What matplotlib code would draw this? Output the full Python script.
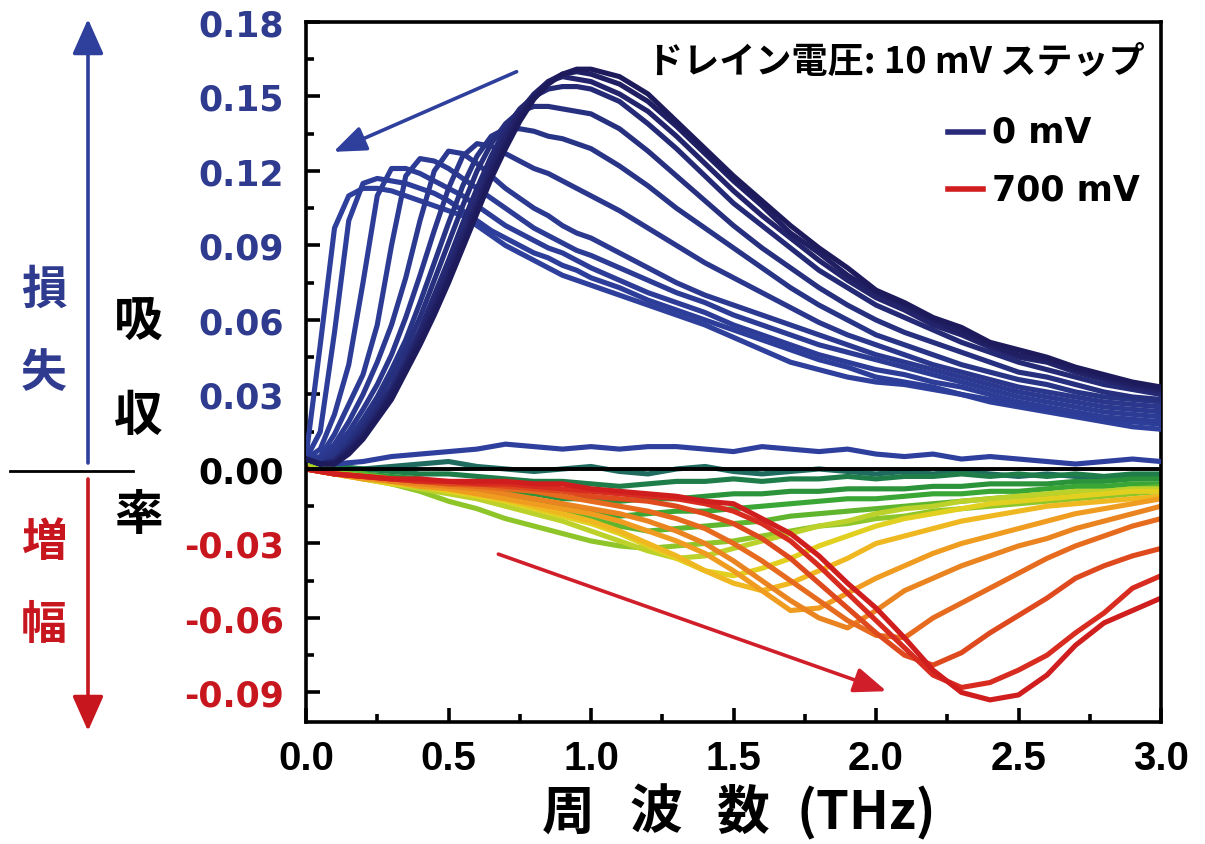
import matplotlib
matplotlib.use("Agg")
import matplotlib.pyplot as plt
from matplotlib.patches import FancyArrowPatch
from matplotlib.lines import Line2D

# ---------------- data ----------------
# loss side (positive) curves on a finer grid
XB = [0.00, 0.05, 0.10, 0.15, 0.20, 0.25, 0.30, 0.35, 0.40, 0.45, 0.50, 0.55, 0.60, 0.65, 0.70,
      0.75, 0.80, 0.85, 0.90, 0.95, 1.00, 1.10, 1.20, 1.30, 1.40, 1.50, 1.60, 1.70, 1.80, 1.90,
      2.00, 2.10, 2.20, 2.30, 2.40, 2.50, 2.60, 2.70, 2.80, 2.90, 3.00]

blue_c0 = [0.004, 0.002, 0.002, 0.006, 0.012, 0.020, 0.028, 0.039, 0.050, 0.062, 0.075, 0.089, 0.103, 0.117, 0.129,
           0.140, 0.149, 0.155, 0.159, 0.161, 0.161, 0.158, 0.151, 0.140, 0.129, 0.118, 0.108, 0.098, 0.089, 0.081,
           0.072, 0.067, 0.061, 0.057, 0.051, 0.048, 0.045, 0.041, 0.038, 0.035, 0.033]
blue_c1 = [0.004, 0.002, 0.002, 0.007, 0.013, 0.021, 0.030, 0.041, 0.052, 0.064, 0.077, 0.091, 0.105, 0.119, 0.131,
           0.142, 0.150, 0.156, 0.159, 0.160, 0.159, 0.155, 0.148, 0.138, 0.127, 0.116, 0.106, 0.095, 0.087, 0.078,
           0.071, 0.066, 0.060, 0.055, 0.050, 0.046, 0.044, 0.040, 0.037, 0.034, 0.032]
blue_c2 = [0.004, 0.002, 0.003, 0.008, 0.014, 0.022, 0.031, 0.042, 0.054, 0.067, 0.080, 0.094, 0.108, 0.122, 0.134,
           0.144, 0.151, 0.156, 0.158, 0.157, 0.156, 0.151, 0.144, 0.134, 0.123, 0.112, 0.102, 0.093, 0.084, 0.076,
           0.069, 0.064, 0.058, 0.054, 0.049, 0.045, 0.043, 0.039, 0.036, 0.033, 0.031]
blue_c3 = [0.004, 0.002, 0.003, 0.009, 0.016, 0.024, 0.033, 0.044, 0.056, 0.070, 0.084, 0.099, 0.113, 0.126, 0.137,
           0.145, 0.150, 0.153, 0.154, 0.154, 0.153, 0.148, 0.139, 0.129, 0.118, 0.107, 0.098, 0.089, 0.080, 0.073,
           0.066, 0.061, 0.056, 0.051, 0.047, 0.043, 0.040, 0.037, 0.034, 0.032, 0.030]
blue_c4 = [0.004, 0.002, 0.004, 0.010, 0.018, 0.027, 0.037, 0.048, 0.061, 0.076, 0.091, 0.106, 0.120, 0.131, 0.139,
           0.144, 0.146, 0.146, 0.145, 0.144, 0.143, 0.137, 0.128, 0.118, 0.108, 0.098, 0.089, 0.081, 0.073, 0.066,
           0.060, 0.055, 0.051, 0.047, 0.043, 0.039, 0.037, 0.034, 0.031, 0.029, 0.028]
blue_c5 = [0.004, 0.002, 0.006, 0.012, 0.020, 0.029, 0.040, 0.052, 0.067, 0.083, 0.099, 0.114, 0.126, 0.134, 0.137,
           0.137, 0.136, 0.134, 0.133, 0.131, 0.129, 0.122, 0.114, 0.105, 0.097, 0.089, 0.081, 0.073, 0.066, 0.060,
           0.054, 0.050, 0.046, 0.042, 0.039, 0.036, 0.034, 0.031, 0.029, 0.028, 0.027]
blue_c6 = [0.004, 0.003, 0.008, 0.015, 0.024, 0.034, 0.046, 0.061, 0.078, 0.096, 0.113, 0.126, 0.131, 0.130, 0.127,
           0.124, 0.121, 0.119, 0.116, 0.113, 0.110, 0.104, 0.097, 0.090, 0.083, 0.077, 0.071, 0.065, 0.059, 0.054,
           0.050, 0.046, 0.042, 0.039, 0.036, 0.033, 0.031, 0.029, 0.027, 0.026, 0.025]
blue_c7 = [0.004, 0.004, 0.010, 0.019, 0.030, 0.043, 0.058, 0.077, 0.100, 0.120, 0.128, 0.127, 0.123, 0.118, 0.113,
           0.109, 0.105, 0.102, 0.098, 0.095, 0.093, 0.087, 0.081, 0.075, 0.070, 0.066, 0.062, 0.058, 0.054, 0.050,
           0.046, 0.043, 0.040, 0.037, 0.034, 0.031, 0.029, 0.027, 0.025, 0.024, 0.023]
blue_c8 = [0.004, 0.005, 0.014, 0.026, 0.038, 0.058, 0.090, 0.118, 0.125, 0.124, 0.121, 0.117, 0.113, 0.109, 0.105,
           0.101, 0.097, 0.094, 0.091, 0.088, 0.086, 0.081, 0.076, 0.071, 0.067, 0.062, 0.058, 0.054, 0.050, 0.047,
           0.044, 0.041, 0.038, 0.035, 0.032, 0.029, 0.027, 0.025, 0.023, 0.022, 0.021]
blue_c9 = [0.004, 0.008, 0.022, 0.042, 0.075, 0.110, 0.121, 0.121, 0.119, 0.116, 0.113, 0.110, 0.106, 0.102, 0.098,
           0.095, 0.092, 0.089, 0.087, 0.084, 0.081, 0.076, 0.071, 0.067, 0.063, 0.058, 0.054, 0.050, 0.046, 0.043,
           0.040, 0.038, 0.035, 0.033, 0.030, 0.027, 0.025, 0.023, 0.021, 0.020, 0.019]
blue_c10 = [0.004, 0.015, 0.055, 0.100, 0.115, 0.117, 0.116, 0.115, 0.113, 0.111, 0.108, 0.104, 0.100, 0.096, 0.093,
            0.090, 0.087, 0.085, 0.082, 0.080, 0.077, 0.073, 0.068, 0.064, 0.060, 0.056, 0.052, 0.048, 0.044, 0.041,
            0.037, 0.035, 0.033, 0.030, 0.028, 0.026, 0.024, 0.022, 0.020, 0.019, 0.018]
blue_c11 = [0.005, 0.050, 0.097, 0.110, 0.113, 0.113, 0.112, 0.110, 0.108, 0.106, 0.104, 0.102, 0.098, 0.094, 0.090,
            0.087, 0.084, 0.081, 0.078, 0.076, 0.074, 0.070, 0.066, 0.062, 0.058, 0.053, 0.048, 0.043, 0.040, 0.037,
            0.035, 0.034, 0.032, 0.030, 0.027, 0.025, 0.023, 0.021, 0.019, 0.017, 0.016]

# near-zero and gain side (negative) curves, 0.1 THz grid
XN = [0.0, 0.1, 0.2, 0.3, 0.4, 0.5, 0.6, 0.7, 0.8, 0.9, 1.0, 1.1, 1.2, 1.3, 1.4, 1.5, 1.6, 1.7, 1.8, 1.9,
      2.0, 2.1, 2.2, 2.3, 2.4, 2.5, 2.6, 2.7, 2.8, 2.9, 3.0]

flat_blue = [0.005, 0.002, 0.003, 0.005, 0.006, 0.007, 0.008, 0.010, 0.009, 0.008, 0.009, 0.008, 0.009, 0.009, 0.008, 0.007,
             0.009, 0.008, 0.007, 0.008, 0.006, 0.005, 0.006, 0.004, 0.005, 0.004, 0.003, 0.002, 0.003, 0.004, 0.003]
teal = [0.003, 0.001, 0.000, 0.001, 0.002, 0.003, 0.001, 0.000, -0.001, 0.000, 0.001, -0.001, -0.002, 0.000, 0.001, -0.001,
        -0.002, -0.001, 0.000, -0.001, -0.002, -0.001, -0.002, -0.001, -0.002, -0.003, -0.002, -0.003, -0.004, -0.003, -0.003]
green1 = [0.002, 0.001, 0.000, -0.001, -0.002, -0.002, -0.003, -0.004, -0.005, -0.005, -0.006, -0.007, -0.006, -0.005, -0.005,
          -0.004, -0.005, -0.004, -0.004, -0.003, -0.004, -0.003, -0.003, -0.002, -0.003, -0.002, -0.003, -0.002, -0.003, -0.002, -0.002]
green2 = [0.002, 0.000, -0.002, -0.003, -0.004, -0.006, -0.007, -0.009, -0.010, -0.012, -0.012, -0.013, -0.012, -0.012, -0.011,
          -0.010, -0.010, -0.009, -0.009, -0.008, -0.008, -0.008, -0.007, -0.007, -0.006, -0.006, -0.006, -0.005, -0.005, -0.004, -0.004]
green3 = [0.002, 0.000, -0.002, -0.004, -0.005, -0.007, -0.009, -0.011, -0.013, -0.015, -0.017, -0.019, -0.018, -0.017, -0.017,
          -0.016, -0.015, -0.014, -0.013, -0.012, -0.012, -0.011, -0.010, -0.010, -0.009, -0.009, -0.008, -0.007, -0.007, -0.006, -0.006]
green4 = [0.002, 0.000, -0.002, -0.004, -0.006, -0.008, -0.010, -0.012, -0.015, -0.017, -0.020, -0.023, -0.025, -0.024, -0.023,
          -0.022, -0.021, -0.019, -0.018, -0.017, -0.016, -0.015, -0.014, -0.013, -0.012, -0.011, -0.011, -0.010, -0.009, -0.008, -0.007]
green5 = [0.002, -0.001, -0.003, -0.006, -0.009, -0.013, -0.016, -0.020, -0.023, -0.026, -0.029, -0.031, -0.032, -0.031, -0.030,
          -0.029, -0.027, -0.025, -0.023, -0.022, -0.020, -0.019, -0.017, -0.016, -0.015, -0.014, -0.013, -0.012, -0.011, -0.010, -0.009]
yellow1 = [0.001, -0.002, -0.004, -0.006, -0.008, -0.010, -0.012, -0.015, -0.018, -0.021, -0.025, -0.029, -0.033, -0.036, -0.035,
           -0.032, -0.029, -0.026, -0.023, -0.021, -0.018, -0.016, -0.015, -0.013, -0.012, -0.011, -0.010, -0.009, -0.009, -0.008, -0.008]
yellow2 = [0.000, -0.002, -0.004, -0.006, -0.007, -0.009, -0.011, -0.013, -0.016, -0.019, -0.022, -0.026, -0.031, -0.036, -0.041,
           -0.043, -0.040, -0.036, -0.031, -0.027, -0.023, -0.020, -0.018, -0.016, -0.014, -0.013, -0.012, -0.011, -0.010, -0.009, -0.009]
yellow3 = [0.000, -0.002, -0.003, -0.005, -0.006, -0.008, -0.010, -0.012, -0.015, -0.018, -0.021, -0.025, -0.030, -0.035, -0.041,
           -0.046, -0.049, -0.046, -0.041, -0.036, -0.030, -0.027, -0.024, -0.021, -0.019, -0.017, -0.015, -0.014, -0.013, -0.012, -0.011]
orange1 = [0.000, -0.002, -0.004, -0.005, -0.007, -0.008, -0.010, -0.012, -0.014, -0.016, -0.018, -0.021, -0.025, -0.029, -0.034,
           -0.041, -0.049, -0.057, -0.056, -0.050, -0.044, -0.039, -0.034, -0.030, -0.027, -0.024, -0.021, -0.018, -0.016, -0.014, -0.012]
orange2 = [0.000, -0.002, -0.003, -0.005, -0.006, -0.007, -0.008, -0.010, -0.012, -0.014, -0.016, -0.018, -0.021, -0.025, -0.030,
           -0.037, -0.045, -0.053, -0.060, -0.064, -0.057, -0.049, -0.044, -0.039, -0.035, -0.031, -0.028, -0.024, -0.021, -0.018, -0.015]
orange3 = [0.000, -0.002, -0.003, -0.004, -0.005, -0.006, -0.007, -0.008, -0.009, -0.011, -0.013, -0.015, -0.017, -0.020, -0.024,
           -0.030, -0.037, -0.045, -0.053, -0.061, -0.067, -0.068, -0.060, -0.054, -0.048, -0.042, -0.036, -0.031, -0.027, -0.023, -0.020]
red1 = [0.000, -0.002, -0.003, -0.004, -0.005, -0.006, -0.006, -0.007, -0.008, -0.009, -0.011, -0.012, -0.013, -0.015, -0.018,
        -0.022, -0.028, -0.036, -0.046, -0.056, -0.066, -0.075, -0.079, -0.074, -0.066, -0.059, -0.052, -0.044, -0.039, -0.035, -0.032]
red2 = [0.000, -0.002, -0.003, -0.004, -0.005, -0.005, -0.006, -0.006, -0.007, -0.008, -0.009, -0.010, -0.011, -0.012, -0.014,
        -0.017, -0.022, -0.029, -0.039, -0.050, -0.061, -0.072, -0.083, -0.088, -0.086, -0.081, -0.075, -0.066, -0.058, -0.048, -0.043]
red3 = [0.000, -0.002, -0.003, -0.004, -0.004, -0.005, -0.005, -0.005, -0.006, -0.006, -0.008, -0.009, -0.010, -0.011, -0.013,
        -0.014, -0.020, -0.026, -0.035, -0.046, -0.056, -0.068, -0.081, -0.090, -0.093, -0.091, -0.083, -0.071, -0.062, -0.057, -0.052]

BLUE_CURVES = [blue_c11, blue_c10, blue_c9, blue_c8, blue_c7, blue_c6, blue_c5, blue_c4, blue_c3, blue_c2, blue_c1, blue_c0]
BLUE_COLORS = ['#2e3f9c', '#2d3e9a', '#2c3c97', '#2c3b94', '#2b3990', '#2a378c', '#283486', '#27307f',
               '#252a76', '#23246b', '#201f63', '#1d1b5c']
NEG_CURVES = [teal, green1, green2, green3, green4, green5, yellow1, yellow2, yellow3,
              orange1, orange2, orange3, red1, red2, red3]
NEG_COLORS = ['#1f6b5f', '#1f7d4a', '#2b933a', '#3aa636', '#5fb62e', '#8ec62a', '#bcd12a', '#e2d020', '#f0b820',
              '#ef9c20', '#ea8420', '#e66b1e', '#de4a1e', '#d82c20', '#d01e1e']

XTICKS = [0.0, 0.5, 1.0, 1.5, 2.0, 2.5, 3.0]
XTICKLABELS = ['0.0', '0.5', '1.0', '1.5', '2.0', '2.5', '3.0']
XMINOR = [0.25, 0.75, 1.25, 1.75, 2.25, 2.75]
YTICKS = [-0.09, -0.06, -0.03, 0.00, 0.03, 0.06, 0.09, 0.12, 0.15, 0.18]
YTICKLABELS = ['-0.09', '-0.06', '-0.03', '0.00', '0.03', '0.06', '0.09', '0.12', '0.15', '0.18']
YMINOR = [-0.075, -0.045, -0.015, 0.015, 0.045, 0.075, 0.105, 0.135, 0.165]

BLUE_TXT = '#2e3b8f'
RED_TXT = '#c8161e'

# ---------------- figure ----------------
plt.rcParams['font.family'] = ['DejaVu Sans']
W, H = 1205, 845
fig = plt.figure(figsize=(W / 100, H / 100), dpi=100)
fig.patch.set_facecolor('white')
ax = fig.add_axes([306 / W, 1 - 723 / H, (1161 - 306) / W, 700 / H])

LW = 3.7
for ys, c in zip(NEG_CURVES, NEG_COLORS):
    ax.plot(XN, ys, color=c, lw=LW, solid_capstyle='round', solid_joinstyle='round', zorder=2)
ax.axhline(0, color='black', lw=2.8, zorder=3)
ax.plot(XN, flat_blue, color='#2e3f9e', lw=LW, solid_capstyle='round', solid_joinstyle='round', zorder=4)
for ys, c in zip(BLUE_CURVES, BLUE_COLORS):
    ax.plot(XB, ys, color=c, lw=LW, solid_capstyle='round', solid_joinstyle='round', zorder=4)

ax.set_xlim(0, 3.0)
ax.set_ylim(-0.1019, 0.180)

ax.set_xticks(XTICKS)
ax.set_xticks(XMINOR, minor=True)
ax.set_yticks(YTICKS)
ax.set_yticks(YMINOR, minor=True)
ax.set_xticklabels(XTICKLABELS, fontfamily=['Liberation Sans', 'DejaVu Sans'],
                   fontweight='bold', fontsize=29)
ax.set_yticklabels(YTICKLABELS, fontweight='bold', fontsize=25)
for lab, v in zip(ax.get_yticklabels(), YTICKS):
    lab.set_color(BLUE_TXT if v > 0 else (RED_TXT if v < 0 else 'black'))
ax.tick_params(which='major', direction='in', length=10, width=2.6, pad=16)
ax.tick_params(axis='x', which='major', pad=12)
ax.tick_params(which='minor', direction='in', length=5.5, width=2.6)
for s in ax.spines.values():
    s.set_linewidth(2.6)

# inside annotations
ax.annotate('', xy=(0.096, 0.1277), xytext=(0.739, 0.160),
            arrowprops=dict(arrowstyle='-|>,head_length=0.9,head_width=0.35', lw=2.6,
                            color='#2e3f9c', mutation_scale=22, shrinkA=0, shrinkB=0), zorder=6)
ax.annotate('', xy=(2.037, -0.0895), xytext=(0.675, -0.0343),
            arrowprops=dict(arrowstyle='-|>,head_length=0.9,head_width=0.35', lw=2.6,
                            color='#d01e2a', mutation_scale=22, shrinkA=0, shrinkB=0), zorder=6)

cjk = ['Noto Sans CJK JP', 'DejaVu Sans']
ax.text(0.981, 0.944, 'ドレイン電圧: 10 mV ステップ', transform=ax.transAxes, ha='right', va='center',
        fontsize=26, fontweight='bold', family=cjk, zorder=7)
ax.add_line(Line2D([0.751, 0.792], [0.843, 0.843], transform=ax.transAxes, color='#2a2a7a', lw=4, zorder=7))
ax.add_line(Line2D([0.751, 0.792], [0.761, 0.761], transform=ax.transAxes, color='#d01e1e', lw=4, zorder=7))
ax.text(0.802, 0.843, '0 mV', transform=ax.transAxes, ha='left', va='center', fontsize=25,
        fontweight='bold', zorder=7)
ax.text(0.802, 0.761, '700 mV', transform=ax.transAxes, ha='left', va='center', fontsize=25,
        fontweight='bold', zorder=7)

# x label, as separate glyph groups
def fx(px):
    return px / W

def fy(py):
    return 1 - py / H

for s, cx in zip(['周', '波', '数', '(THz)'], [568, 656, 743, 866]):
    fig.text(fx(cx), fy(813), s, ha='center', va='center', fontsize=38, fontweight='bold', family=cjk)

# left side annotations
for s, (cx, cy), col in zip(['損', '失', '増', '幅'],
                            [(44, 291), (44, 374), (44, 543), (44, 626)],
                            [BLUE_TXT, BLUE_TXT, RED_TXT, RED_TXT]):
    fig.text(fx(cx), fy(cy), s, ha='center', va='center', fontsize=33, fontweight='bold', family=cjk, color=col)
for s, cy in zip(['吸', '収', '率'], [321, 417, 516]):
    fig.text(fx(138), fy(cy), s, ha='center', va='center', fontsize=35, fontweight='bold', family=cjk, color='black')

fig.add_artist(FancyArrowPatch((fx(88), fy(464)), (fx(88), fy(20)), transform=fig.transFigure,
                               arrowstyle='-|>,head_length=0.9,head_width=0.4', mutation_scale=24,
                               lw=2.6, color='#2e3f9c', shrinkA=0, shrinkB=0))
fig.add_artist(FancyArrowPatch((fx(88), fy(480)), (fx(88), fy(732)), transform=fig.transFigure,
                               arrowstyle='-|>,head_length=0.9,head_width=0.4', mutation_scale=24,
                               lw=2.6, color='#c8161e', shrinkA=0, shrinkB=0))
fig.add_artist(Line2D([fx(10), fx(133)], [fy(472), fy(472)], transform=fig.transFigure, color='black', lw=2))

fig.savefig('out.png', dpi=100, facecolor='white')
